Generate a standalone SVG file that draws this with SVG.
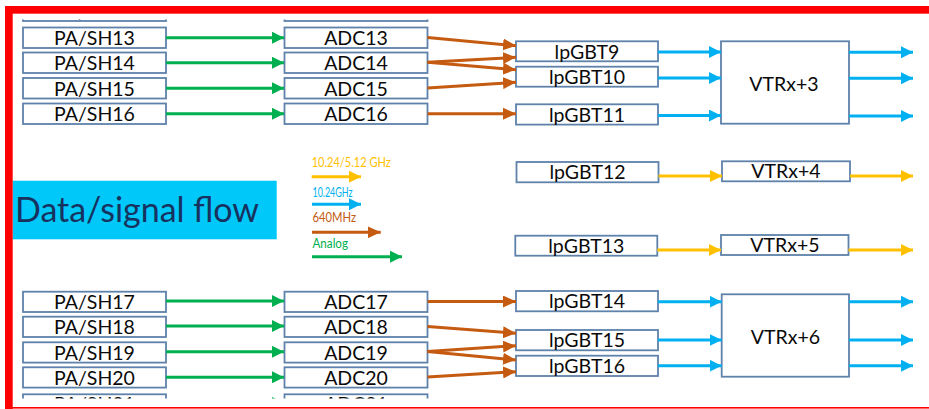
<svg xmlns="http://www.w3.org/2000/svg" width="929" height="409" viewBox="0 0 929 409">
<style>
.box{fill:#fff;stroke:#5E82AA;stroke-width:1.8}
.t{font-family:Lato,"Liberation Sans",sans-serif;font-size:19.5px;fill:#0A0A0A;text-anchor:middle}
.lg{font-family:Lato,"Liberation Sans",sans-serif;font-size:12.5px}
.g{stroke:#00B050;stroke-width:3;fill:none;marker-end:url(#mg)}
.o{stroke:#C55A11;stroke-width:3;fill:none;marker-end:url(#mo)}
.b{stroke:#00B0F0;stroke-width:3;fill:none;marker-end:url(#mb)}
.y{stroke:#FFC000;stroke-width:3;fill:none;marker-end:url(#my)}
</style>
<defs>
<marker id="mg" markerUnits="userSpaceOnUse" markerWidth="12" markerHeight="12" refX="12" refY="6" orient="auto"><path d="M0,0 L12,6 L0,12 z" fill="#00B050"/></marker>
<marker id="mo" markerUnits="userSpaceOnUse" markerWidth="13" markerHeight="12" refX="13" refY="6" orient="auto"><path d="M0,0 L13,6 L0,12 z" fill="#C55A11"/></marker>
<marker id="mb" markerUnits="userSpaceOnUse" markerWidth="12" markerHeight="12" refX="12" refY="6" orient="auto"><path d="M0,0 L12,6 L0,12 z" fill="#00B0F0"/></marker>
<marker id="my" markerUnits="userSpaceOnUse" markerWidth="12" markerHeight="12" refX="12" refY="6" orient="auto"><path d="M0,0 L12,6 L0,12 z" fill="#FFC000"/></marker>
<clipPath id="cl"><rect x="0" y="19.5" width="929" height="379"/></clipPath>
</defs>
<rect width="929" height="409" fill="#fff"/>

<g clip-path="url(#cl)">
<g id="pash12"><rect class="box" x="23" y="1" width="143" height="20"/><text class="t" x="94.5" y="18.5">PA/SH12</text></g>
<g id="adc12"><rect class="box" x="284.5" y="1" width="143" height="20"/><text class="t" x="356" y="18.5">ADC12</text></g>
<g id="pash21"><rect class="box" x="23" y="394.3" width="143" height="20.3"/><text class="t" x="94.5" y="410.5">PA/SH21</text></g>
<g id="adc21"><rect class="box" x="284.5" y="394.3" width="143" height="20.3"/><text class="t" x="356" y="410.5">ADC21</text></g>
<g id="partial-arrow"><line class="g" x1="166" y1="403" x2="284" y2="403"/></g>
</g>

<g id="pash13"><rect class="box" x="23" y="27.5" width="143" height="20.5"/><text class="t" x="94.5" y="45">PA/SH13</text></g>
<g id="pash14"><rect class="box" x="23" y="52.5" width="143" height="20.5"/><text class="t" x="94.5" y="70">PA/SH14</text></g>
<g id="pash15"><rect class="box" x="23" y="78" width="143" height="20.5"/><text class="t" x="94.5" y="95.5">PA/SH15</text></g>
<g id="pash16"><rect class="box" x="23" y="103.5" width="143" height="20.5"/><text class="t" x="94.5" y="121">PA/SH16</text></g>
<g id="adc13"><rect class="box" x="284.5" y="27.5" width="143" height="20.5"/><text class="t" x="356" y="45">ADC13</text></g>
<g id="adc14"><rect class="box" x="284.5" y="52.5" width="143" height="20.5"/><text class="t" x="356" y="70">ADC14</text></g>
<g id="adc15"><rect class="box" x="284.5" y="78" width="143" height="20.5"/><text class="t" x="356" y="95.5">ADC15</text></g>
<g id="adc16"><rect class="box" x="284.5" y="103.5" width="143" height="20.5"/><text class="t" x="356" y="121">ADC16</text></g>

<g id="pash17"><rect class="box" x="23" y="291.7" width="143" height="20.3"/><text class="t" x="94.5" y="309">PA/SH17</text></g>
<g id="pash18"><rect class="box" x="23" y="316.7" width="143" height="20.3"/><text class="t" x="94.5" y="334">PA/SH18</text></g>
<g id="pash19"><rect class="box" x="23" y="342.3" width="143" height="20.3"/><text class="t" x="94.5" y="359.6">PA/SH19</text></g>
<g id="pash20"><rect class="box" x="23" y="367.3" width="143" height="20.3"/><text class="t" x="94.5" y="384.6">PA/SH20</text></g>
<g id="adc17"><rect class="box" x="284.5" y="291.7" width="143" height="20.3"/><text class="t" x="356" y="309">ADC17</text></g>
<g id="adc18"><rect class="box" x="284.5" y="316.7" width="143" height="20.3"/><text class="t" x="356" y="334">ADC18</text></g>
<g id="adc19"><rect class="box" x="284.5" y="342.3" width="143" height="20.3"/><text class="t" x="356" y="359.6">ADC19</text></g>
<g id="adc20"><rect class="box" x="284.5" y="367.3" width="143" height="20.3"/><text class="t" x="356" y="384.6">ADC20</text></g>

<g id="lpgbt9"><rect class="box" x="516" y="41.3" width="142" height="20"/><text class="t" x="587" y="58.5">lpGBT9</text></g>
<g id="lpgbt10"><rect class="box" x="516" y="66.7" width="142" height="20"/><text class="t" x="587" y="83.7">lpGBT10</text></g>
<g id="lpgbt11"><rect class="box" x="516" y="104.3" width="142" height="20.3"/><text class="t" x="587" y="121.5">lpGBT11</text></g>
<g id="vtrx3"><rect class="box" x="721" y="41.3" width="128" height="82.4"/><text class="t" x="784" y="90.5">VTRx+3</text></g>

<g id="lpgbt12"><rect class="box" x="516.5" y="162" width="142" height="20.3"/><text class="t" x="587.5" y="178.8">lpGBT12</text></g>
<g id="vtrx4"><rect class="box" x="722" y="161.3" width="128" height="20"/><text class="t" x="786" y="178.3">VTRx+4</text></g>
<g id="lpgbt13"><rect class="box" x="515.3" y="235.7" width="142" height="20"/><text class="t" x="586.3" y="252.5">lpGBT13</text></g>
<g id="vtrx5"><rect class="box" x="721" y="235" width="127.5" height="20"/><text class="t" x="785" y="252">VTRx+5</text></g>

<g id="lpgbt14"><rect class="box" x="516" y="291" width="142" height="20.3"/><text class="t" x="587" y="308">lpGBT14</text></g>
<g id="lpgbt15"><rect class="box" x="516" y="330" width="142" height="20.3"/><text class="t" x="587" y="347.3">lpGBT15</text></g>
<g id="lpgbt16"><rect class="box" x="516" y="355.7" width="142" height="20.3"/><text class="t" x="587" y="373">lpGBT16</text></g>
<g id="vtrx6"><rect class="box" x="721.7" y="294.3" width="127.3" height="82.4"/><text class="t" x="785.5" y="343.5">VTRx+6</text></g>

<g id="legend">
<rect x="12.7" y="180.7" width="264" height="58.6" fill="#00C8F8"/>
<text x="15" y="221.7" font-family="Lato,'Liberation Sans',sans-serif" font-size="35" fill="#17325E" textLength="244" lengthAdjust="spacingAndGlyphs">Data/signal flow</text>
<text class="lg" x="311.7" y="166.5" fill="#FFC000" textLength="79" lengthAdjust="spacingAndGlyphs">10.24/5.12 GHz</text>
<text class="lg" x="312.5" y="196.5" fill="#00B0F0" textLength="40" lengthAdjust="spacingAndGlyphs">10.24GHz</text>
<text class="lg" x="312.5" y="222" fill="#C55A11" textLength="43.5" lengthAdjust="spacingAndGlyphs">640MHz</text>
<text class="lg" x="312.5" y="248" fill="#00B050" textLength="35.5" lengthAdjust="spacingAndGlyphs">Analog</text>
<line class="y" x1="311.7" y1="176.7" x2="361" y2="176.7" stroke-width="2.5"/>
<line class="b" x1="312" y1="204.3" x2="361" y2="204.3" stroke-width="2.5"/>
<line class="o" x1="312" y1="232.3" x2="380.7" y2="232.3" stroke-width="2.5"/>
<line class="g" x1="312" y1="256.7" x2="402" y2="256.7" stroke-width="2.5"/>
</g>

<g id="connectors">
<line class="g" x1="166" y1="37.7" x2="284" y2="37.7"/>
<line class="g" x1="166" y1="62.7" x2="284" y2="62.7"/>
<line class="g" x1="166" y1="88.2" x2="284" y2="88.2"/>
<line class="g" x1="166" y1="113.7" x2="284" y2="113.7"/>
<line class="g" x1="166" y1="301" x2="284" y2="301"/>
<line class="g" x1="166" y1="326" x2="284" y2="326"/>
<line class="g" x1="166" y1="351.8" x2="284" y2="351.8"/>
<line class="g" x1="166" y1="377.3" x2="284" y2="377.3"/>

<line class="o" x1="427.5" y1="37.5" x2="516" y2="45.7"/>
<line class="o" x1="427.5" y1="62.3" x2="516" y2="57.3"/>
<line class="o" x1="427.5" y1="62.3" x2="516" y2="69.7"/>
<line class="o" x1="427.5" y1="88" x2="516" y2="82.3"/>
<line class="o" x1="427.5" y1="113.7" x2="516" y2="113.7"/>
<line class="o" x1="427.5" y1="301.5" x2="516" y2="301.5"/>
<line class="o" x1="427.5" y1="326.5" x2="516" y2="333.3"/>
<line class="o" x1="427.5" y1="351.5" x2="516" y2="345.7"/>
<line class="o" x1="427.5" y1="351.5" x2="516" y2="360"/>
<line class="o" x1="427.5" y1="377" x2="516" y2="371.7"/>

<line class="b" x1="658" y1="52" x2="721" y2="52"/>
<line class="b" x1="658" y1="78" x2="721" y2="78"/>
<line class="b" x1="658" y1="115.5" x2="721" y2="115.5"/>
<line class="b" x1="849" y1="52.3" x2="913" y2="52.3"/>
<line class="b" x1="849" y1="78.3" x2="913" y2="78.3"/>
<line class="b" x1="849" y1="116" x2="913" y2="116"/>
<line class="b" x1="658" y1="301.7" x2="721.7" y2="301.7"/>
<line class="b" x1="658" y1="340" x2="721.7" y2="340"/>
<line class="b" x1="658" y1="365.7" x2="721.7" y2="365.7"/>
<line class="b" x1="849" y1="301.7" x2="913" y2="301.7"/>
<line class="b" x1="849" y1="340" x2="913" y2="340"/>
<line class="b" x1="849" y1="365.7" x2="913" y2="365.7"/>

<line class="y" x1="658.5" y1="176" x2="722" y2="176"/>
<line class="y" x1="850" y1="176" x2="913" y2="176"/>
<line class="y" x1="657.3" y1="250" x2="721" y2="250"/>
<line class="y" x1="848.5" y1="250" x2="913" y2="250"/>
</g>

<g id="frame" fill="#FF0000">
<rect x="5" y="6" width="924" height="7.7"/>
<rect x="5" y="6" width="7.7" height="403"/>
<rect x="12" y="407" width="917" height="1.6"/>
</g>
</svg>
